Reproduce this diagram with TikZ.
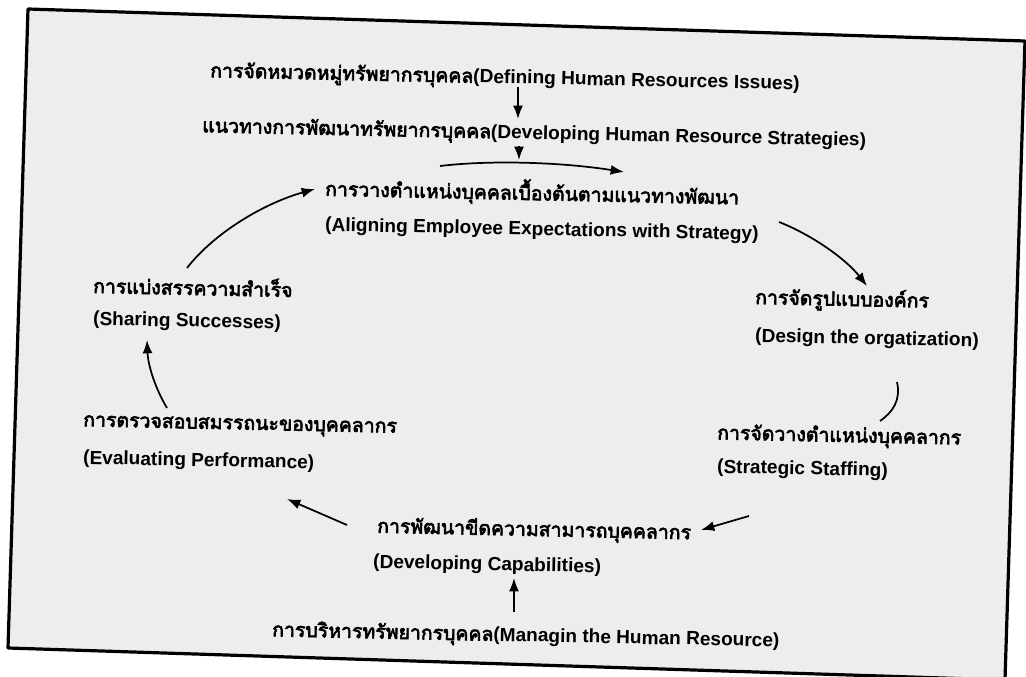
\documentclass[tikz,border=0pt]{standalone}
\usepackage{fontspec}
\setmainfont{Liberation Sans}
\newfontfamily\thaifont[Script=Thai, FakeBold=3.2]{Loma}
\usetikzlibrary{arrows.meta}
\newcommand{\thai}[1]{{\thaifont\mdseries\fontsize{14.6}{17}\selectfont #1}}

\begin{document}
\begin{tikzpicture}[x=0.75pt,y=-0.75pt,
  lbl/.style={anchor=west, inner sep=0pt, rotate=-1.2,
    font=\bfseries\fontsize{14.3}{17}\selectfont},
  flow/.style={line width=1.3pt, -{Latex[length=10pt,width=7.5pt]}},
  plain/.style={line width=1.3pt}]
\useasboundingbox (0,0) rectangle (1026,677);
\fill[white] (0,0) rectangle (1026,677);
% page frame, slightly skewed
\draw[line width=2.4pt, fill=black!7, line join=round]
  (28,9) -- (1025,41) -- (1005,680) -- (8,648) -- cycle;

% labels
\node[lbl] (def)   at (210,72)  {\thai{การจัดหมวดหมู่ทรัพยากรบุคคล}(Defining Human Resources Issues)};
\node[lbl] (strat) at (202,127) {\thai{แนวทางการพัฒนาทรัพยากรบุคคล}(Developing Human Resource Strategies)};
\node[lbl] (alignTh) at (325,188) {\thai{การวางตำแหน่งบุคคลเบื้องต้นตามแนวทางพัฒนา}};
\node[lbl] (alignEn) at (325,226) {(Aligning Employee Expectations with Strategy)};
\node[lbl] (orgTh) at (755,298) {\thai{การจัดรูปแบบองค์กร}};
\node[lbl] (orgEn) at (755,337) {(Design the orgatization)};
\node[lbl] (staffTh) at (717,434) {\thai{การจัดวางตำแหน่งบุคคลากร}};
\node[lbl] (staffEn) at (717,468) {(Strategic Staffing)};
\node[lbl] (capTh) at (377,527) {\thai{การพัฒนาขีดความสามารถบุคคลากร}};
\node[lbl] (capEn) at (373,563) {(Developing Capabilities)};
\node[lbl] (evalTh) at (83,423) {\thai{การตรวจสอบสมรรถนะของบุคคลากร}};
\node[lbl] (evalEn) at (83,459) {(Evaluating Performance)};
\node[lbl] (shareTh) at (93,284) {\thai{การแบ่งสรรความสำเร็จ}};
\node[lbl] (shareEn) at (93,320) {(Sharing Successes)};
\node[lbl] (manage) at (272,631) {\thai{การบริหารทรัพยากรบุคคล}(Managin the Human Resource)};

% connector end points
\coordinate (d1) at (518,87);   \coordinate (d2) at (518,119);
\coordinate (s1) at (519,146);  \coordinate (s2) at (519,160);
\coordinate (c1) at (440,166);  \coordinate (c2) at (624,172);
\coordinate (r1) at (779,222);  \coordinate (r2) at (867,286);
\coordinate (o1) at (897,382);  \coordinate (o2) at (880,421);
\coordinate (t1) at (749,516);  \coordinate (t2) at (701,530);
\coordinate (p1) at (347,525);  \coordinate (p2) at (287,499);
\coordinate (e1) at (167,408);  \coordinate (e2) at (147,340);
\coordinate (h1) at (187,268);  \coordinate (h2) at (315,189);
\coordinate (m1) at (514,612);  \coordinate (m2) at (514,578);

% connectors
\draw[flow] (d1) -- (d2);
\draw[flow] (s1) -- (s2);
\draw[flow] (c1) .. controls (490,160) and (560,162) .. (c2);
\draw[flow] (r1) .. controls (810,234) and (845,258) .. (r2);
\draw[plain] (o1) .. controls (901,400) and (893,412) .. (o2);
\draw[flow] (t1) -- (t2);
\draw[flow] (p1) -- (p2);
\draw[flow] (e1) .. controls (155,388) and (148,365) .. (e2);
\draw[flow] (h1) .. controls (215,232) and (265,203) .. (h2);
\draw[flow] (m1) -- (m2);
\end{tikzpicture}
\end{document}
